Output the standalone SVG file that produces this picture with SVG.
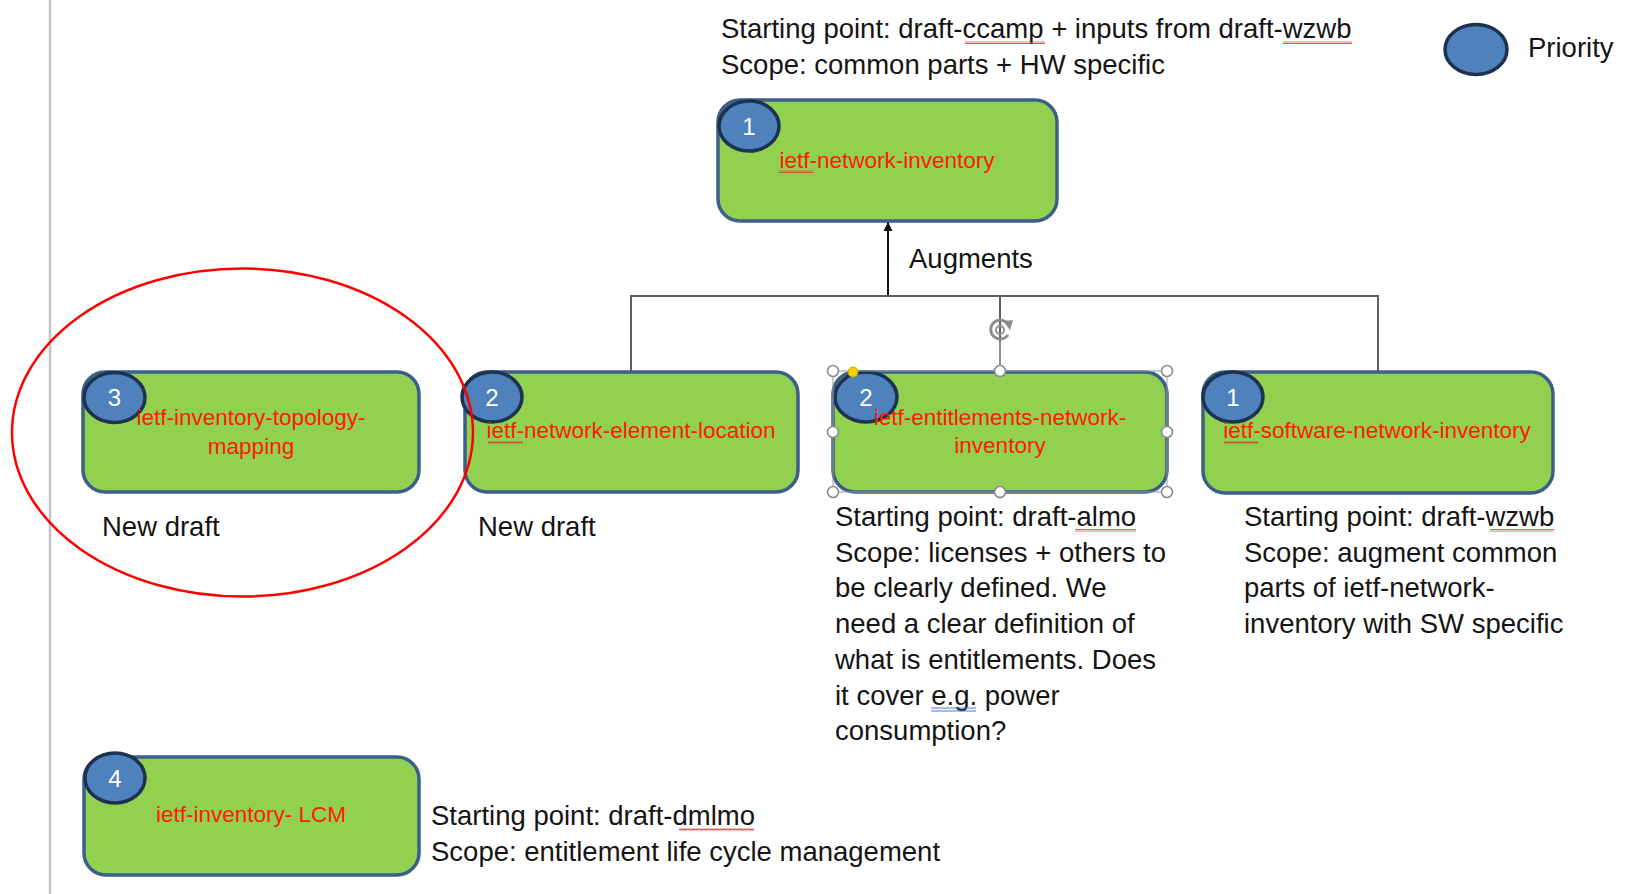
<svg xmlns="http://www.w3.org/2000/svg" width="1632" height="894" viewBox="0 0 1632 894">
  <style>
    .box { fill: #92D050; stroke: #3A5F8B; stroke-width: 3.5; }
    .badge { fill: #4F81BD; stroke: #1D3250; stroke-width: 3.5; }
    .num { font-family: "Liberation Sans", Arial, sans-serif; font-size: 24px; fill: #ffffff; text-anchor: middle; }
    .lbl { font-family: "Liberation Sans", Arial, sans-serif; font-size: 22.5px; fill: #FF1A0A; text-anchor: middle; }
    .txt { font-family: "Liberation Sans", Arial, sans-serif; font-size: 27.5px; fill: #141414; }
    .conn { stroke: #5f5f5f; stroke-width: 2; fill: none; }
    .sq { fill: url(#squiggle); }
    .handle { fill: #ffffff; stroke: #8c8c8c; stroke-width: 1.6; }
  </style>
  <defs>
    <marker id="arrowHead" viewBox="0 0 10 10" refX="10" refY="5" markerWidth="9" markerHeight="9" markerUnits="userSpaceOnUse" orient="auto">
      <path d="M0 0 L10 5 L0 10 Z" fill="#111"/>
    </marker>
    <pattern id="squiggle" width="4" height="3" patternUnits="userSpaceOnUse">
      <path d="M0 2.5 L1 0.5 L2 2.5 L3 0.5 L4 2.5" fill="none" stroke="#E03030" stroke-width="0.8"/>
    </pattern>
  </defs>

  <rect width="1632" height="894" fill="#ffffff"/>

  <!-- page margin rule -->
  <line x1="50" y1="0" x2="50" y2="894" stroke="#c2c2c2" stroke-width="2.5"/>

  <!-- connectors -->
  <g id="connectors">
    <line x1="888" y1="296" x2="888" y2="222" stroke="#111" stroke-width="2" marker-end="url(#arrowHead)"/>
    <polyline class="conn" points="631,372 631,296 1378,296 1378,372"/>
    <line class="conn" x1="1000" y1="296" x2="1000" y2="372"/>
  </g>

  <!-- header notes -->
  <g id="header-notes">
    <text class="txt" x="721" y="38">Starting point: draft-ccamp + inputs from draft-wzwb</text>
    <text class="txt" x="721" y="74">Scope: common parts + HW specific</text>
    <rect class="sq" x="965" y="41" width="80" height="3"/>
    <rect class="sq" x="1283" y="41" width="69" height="3"/>
  </g>

  <!-- legend -->
  <g id="legend">
    <ellipse class="badge" cx="1476" cy="49.5" rx="31" ry="25"/>
    <text class="txt" x="1528" y="57">Priority</text>
  </g>

  <text class="txt" x="909" y="268">Augments</text>

  <!-- ietf-network-inventory -->
  <g id="node-network-inventory">
    <rect class="box" x="718" y="100" width="339" height="121" rx="22"/>
    <ellipse class="badge" cx="749" cy="126" rx="30" ry="25"/>
    <text class="num" x="749" y="134.5">1</text>
    <text class="lbl" x="887" y="168">ietf-network-inventory</text>
    <rect class="sq" x="779" y="170" width="34" height="3"/>
  </g>

  <!-- ietf-inventory-topology-mapping -->
  <g id="node-topology-mapping">
    <rect class="box" x="83" y="372" width="336" height="120" rx="22"/>
    <ellipse class="badge" cx="114.5" cy="397.5" rx="30.5" ry="25"/>
    <text class="num" x="114.5" y="406">3</text>
    <text class="lbl" x="251" y="425">ietf-inventory-topology-</text>
    <text class="lbl" x="251" y="454">mapping</text>
    <text class="txt" x="102" y="536">New draft</text>
  </g>

  <!-- ietf-network-element-location -->
  <g id="node-element-location">
    <rect class="box" x="465" y="372" width="333" height="120" rx="22"/>
    <ellipse class="badge" cx="492" cy="397" rx="30" ry="25"/>
    <text class="num" x="492" y="405.5">2</text>
    <text class="lbl" x="631" y="438">ietf-network-element-location</text>
    <rect class="sq" x="488" y="441" width="35" height="3"/>
    <text class="txt" x="478" y="536">New draft</text>
  </g>

  <!-- ietf-entitlements-network-inventory -->
  <g id="node-entitlements">
    <rect class="box" x="833" y="372" width="334" height="120" rx="22"/>
    <ellipse class="badge" cx="866" cy="397" rx="31" ry="25"/>
    <text class="num" x="866" y="405.5">2</text>
    <text class="lbl" x="1000" y="425">ietf-entitlements-network-</text>
    <text class="lbl" x="1000" y="453">inventory</text>
    <g id="notes-entitlements">
      <text class="txt" x="835" y="526">Starting point: draft-almo</text>
      <text class="txt" x="835" y="562">Scope: licenses + others to</text>
      <text class="txt" x="835" y="597">be clearly defined. We</text>
      <text class="txt" x="835" y="633">need a clear definition of</text>
      <text class="txt" x="835" y="669">what is entitlements. Does</text>
      <text class="txt" x="835" y="705">it cover e.g. power</text>
      <text class="txt" x="835" y="740">consumption?</text>
      <rect class="sq" x="1075" y="529" width="61" height="3"/>
      <line x1="931" y1="708" x2="976" y2="708" stroke="#4A78D8" stroke-width="1"/>
      <line x1="931" y1="711" x2="976" y2="711" stroke="#4A78D8" stroke-width="1"/>
    </g>
    <!-- selection frame and handles -->
    <g id="selection">
      <rect x="833" y="371" width="334" height="121" fill="none" stroke="#9a9a9a" stroke-width="1"/>
      <line x1="1000" y1="341" x2="1000" y2="366" stroke="#8c8c8c" stroke-width="2"/>
      <path d="M1008 335 A9.5 9.5 0 1 1 1008 324" fill="none" stroke="#8c8c8c" stroke-width="2.8"/>
      <path d="M1003 321 L1013 320 L1010 330 Z" fill="#8c8c8c"/>
      <circle cx="1000" cy="330" r="4" fill="none" stroke="#8c8c8c" stroke-width="1.8"/>
      <circle class="handle" cx="833" cy="371" r="5.5"/>
      <circle class="handle" cx="1000" cy="371" r="5.5"/>
      <circle class="handle" cx="1167" cy="371" r="5.5"/>
      <circle class="handle" cx="833" cy="432" r="5.5"/>
      <circle class="handle" cx="1167" cy="432" r="5.5"/>
      <circle class="handle" cx="833" cy="492" r="5.5"/>
      <circle class="handle" cx="1000" cy="492" r="5.5"/>
      <circle class="handle" cx="1167" cy="492" r="5.5"/>
      <circle cx="853" cy="372" r="5" fill="#F5D000" stroke="#c9a800" stroke-width="1"/>
    </g>
  </g>

  <!-- ietf-software-network-inventory -->
  <g id="node-software-inventory">
    <rect class="box" x="1203" y="372" width="350" height="121" rx="22"/>
    <ellipse class="badge" cx="1233" cy="397" rx="30" ry="25"/>
    <text class="num" x="1233" y="405.5">1</text>
    <text class="lbl" x="1377" y="438">ietf-software-network-inventory</text>
    <rect class="sq" x="1224" y="441" width="34" height="3"/>
    <g id="notes-software">
      <text class="txt" x="1244" y="526">Starting point: draft-wzwb</text>
      <text class="txt" x="1244" y="562">Scope: augment common</text>
      <text class="txt" x="1244" y="597">parts of ietf-network-</text>
      <text class="txt" x="1244" y="633">inventory with SW specific</text>
      <rect class="sq" x="1490" y="529" width="64" height="3"/>
    </g>
  </g>

  <!-- ietf-inventory- LCM -->
  <g id="node-lcm">
    <rect class="box" x="84" y="757" width="335" height="118" rx="22"/>
    <ellipse class="badge" cx="115" cy="778" rx="30" ry="25"/>
    <text class="num" x="115" y="786.5">4</text>
    <text class="lbl" x="251" y="822">ietf-inventory- LCM</text>
    <text class="txt" x="431" y="825">Starting point: draft-dmlmo</text>
    <text class="txt" x="431" y="861">Scope: entitlement life cycle management</text>
    <rect class="sq" x="679" y="828" width="75" height="3"/>
  </g>

  <!-- highlight ring -->
  <ellipse id="highlight" cx="242.5" cy="432.5" rx="230.5" ry="164" fill="none" stroke="#FF0000" stroke-width="2.5"/>
</svg>
